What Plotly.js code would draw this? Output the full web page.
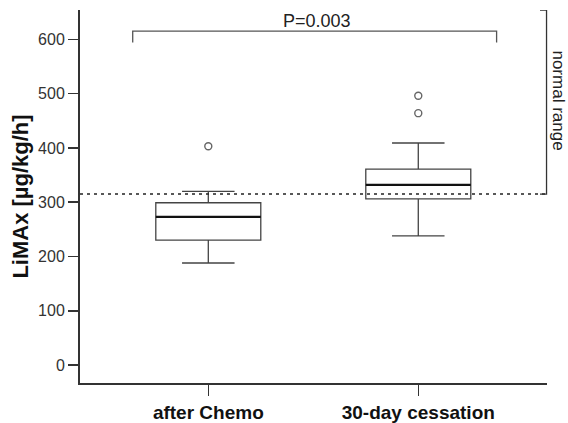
<!DOCTYPE html>
<html>
<head>
<meta charset="utf-8">
<script src="https://cdn.plot.ly/plotly-3.0.1.min.js"></script>
<style>html,body{margin:0;padding:0;background:#fff;}#chart{width:568px;height:423px;}</style>
</head>
<body>
<div id="chart"></div>
<script>
// Data
var categories = ["after Chemo", "30-day cessation"];
var xPos = [0, 1];
var lowerWhisker = [188, 238];
var q1 = [230, 306];
var median = [273, 332];
var q3 = [299, 361];
var upperWhisker = [320, 409];
var outlierGroup = [0, 1, 1];
var outlierValues = [403, 464, 496];
var normalLimit = 315;
var pValueText = "P=0.003";
var boxHalfWidth = 0.25;

var fontFam = "Liberation Sans, Arial, sans-serif";

var boxTrace = {
  type: "box",
  x: xPos,
  q1: q1, median: median, q3: q3,
  lowerfence: lowerWhisker, upperfence: upperWhisker,
  width: boxHalfWidth * 2,
  whiskerwidth: 0.5,
  fillcolor: "rgba(255,255,255,0)",
  line: {color: "#444", width: 1.3},
  boxpoints: false,
  hoverinfo: "skip",
  showlegend: false
};

var medX = [], medY = [];
for (var i = 0; i < xPos.length; i++) {
  medX.push(xPos[i] - boxHalfWidth, xPos[i] + boxHalfWidth, null);
  medY.push(median[i], median[i], null);
}
var medianTrace = {
  type: "scatter", mode: "lines", x: medX, y: medY,
  line: {color: "#111", width: 2.2}, hoverinfo: "skip", showlegend: false
};

var outlierTrace = {
  type: "scatter", mode: "markers",
  x: outlierGroup.map(function (g) { return xPos[g]; }),
  y: outlierValues,
  marker: {symbol: "circle-open", size: 7, color: "#666", line: {width: 1.4, color: "#666"}},
  hoverinfo: "skip", showlegend: false
};

var layout = {
  width: 568, height: 423,
  margin: {l: 80, r: 21, t: 10, b: 40},
  paper_bgcolor: "#fff", plot_bgcolor: "#fff",
  showlegend: false,
  xaxis: {
    range: [-0.611, 1.613],
    tickvals: xPos, ticktext: categories,
    showgrid: false, zeroline: false,
    showline: true, linecolor: "#333", linewidth: 2,
    ticks: "outside", ticklen: 11, tickwidth: 1.5, tickcolor: "#333",
    ticklabelstandoff: 0,
    tickfont: {family: fontFam, size: 19, color: "#111", weight: "bold"}
  },
  yaxis: {
    range: [-33, 654],
    tickvals: [0, 100, 200, 300, 400, 500, 600],
    showgrid: false, zeroline: false,
    showline: true, linecolor: "#333", linewidth: 2,
    ticks: "outside", ticklen: 10, tickwidth: 1.5, tickcolor: "#333",
    tickfont: {family: fontFam, size: 16, color: "#333"},
    title: {text: "LiMAx [µg/kg/h]", standoff: 3,
            font: {family: fontFam, size: 22, color: "#111", weight: "bold"}}
  },
  shapes: [
    {type: "line", xref: "paper", yref: "y", x0: 0, x1: 1, y0: normalLimit, y1: normalLimit,
     line: {color: "#222", width: 1.5, dash: "3px,4px"}},
    {type: "path", xref: "paper", yref: "y",
     path: "M 0.985," + normalLimit + " L 0.999," + normalLimit + " L 0.999,654 L 0.985,654",
     line: {color: "#333", width: 1.3}},
    {type: "path", xref: "x", yref: "y",
     path: "M -0.36,594 L -0.36,615 L 1.373,615 L 1.373,594",
     line: {color: "#555", width: 1.3}}
  ],
  annotations: [
    {xref: "x", yref: "y", x: 0.52, y: 634, text: pValueText, showarrow: false,
     xanchor: "center", yanchor: "middle",
     font: {family: fontFam, size: 18, color: "#222"}},
    {xref: "paper", yref: "y", x: 1.025, y: 488, text: "normal range", showarrow: false,
     xanchor: "center", yanchor: "middle",
     textangle: 90, font: {family: fontFam, size: 17, color: "#222"}}
  ]
};

Plotly.newPlot("chart", [boxTrace, medianTrace, outlierTrace], layout, {displayModeBar: false, staticPlot: true});
</script>
</body>
</html>
